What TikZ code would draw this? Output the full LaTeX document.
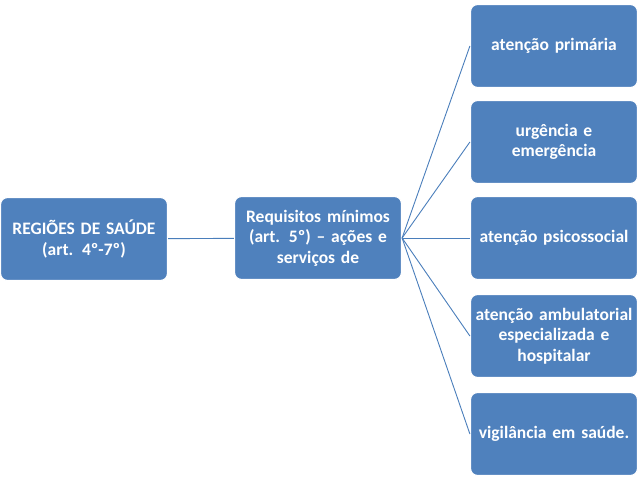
\documentclass[tikz,border=0pt]{standalone}
\usepackage{fontspec}
\setmainfont[WordSpace=0.75]{Carlito}
\usepackage{xcolor}
\usepackage{tikz}
\usetikzlibrary{positioning}
\definecolor{boxBlue}{HTML}{4F81BD}
\definecolor{lineBlue}{HTML}{4A7EBB}

\begin{document}
\begin{tikzpicture}[x=1pt, y=-1pt,
    caixa/.style={draw=white, line width=1.2pt, fill=boxBlue, rounded corners=7pt,
        minimum width=167pt, minimum height=83pt, inner sep=1pt,
        text width=165pt, align=center, text=white,
        font=\fontsize{17.5}{20.5}\selectfont\bfseries},
    liga/.style={draw=lineBlue, line width=0.9pt}]
        \useasboundingbox (0,0) rectangle (638,479);

        % nivel 1 e 2
        \node[caixa] (regioes)    at (84, 239)  {REGIÕES DE SAÚDE\\ (art. 4º-7º)};
        \node[caixa] (requisitos) at (318, 238) {Requisitos mínimos\\ (art. 5º) – ações e\\ serviços de};

        % nivel 3
        \node[caixa] (primaria)     at (554, 46)  {atenção primária};
        \node[caixa] (urgencia)     at (554, 142) {urgência e\\ emergência};
        \node[caixa] (psicossocial) at (554, 238) {atenção psicossocial};
        \node[caixa] (ambulatorial) at (554, 336) {atenção ambulatorial\\ especializada e\\ hospitalar};
        \node[caixa] (vigilancia)   at (554, 434) {vigilância em saúde.};

        \draw[liga] (regioes) -- (requisitos);
        \foreach \alvo in {primaria, urgencia, psicossocial, ambulatorial, vigilancia}
            \draw[liga] (requisitos.east) -- (\alvo.west);
    \end{tikzpicture}
\end{document}
